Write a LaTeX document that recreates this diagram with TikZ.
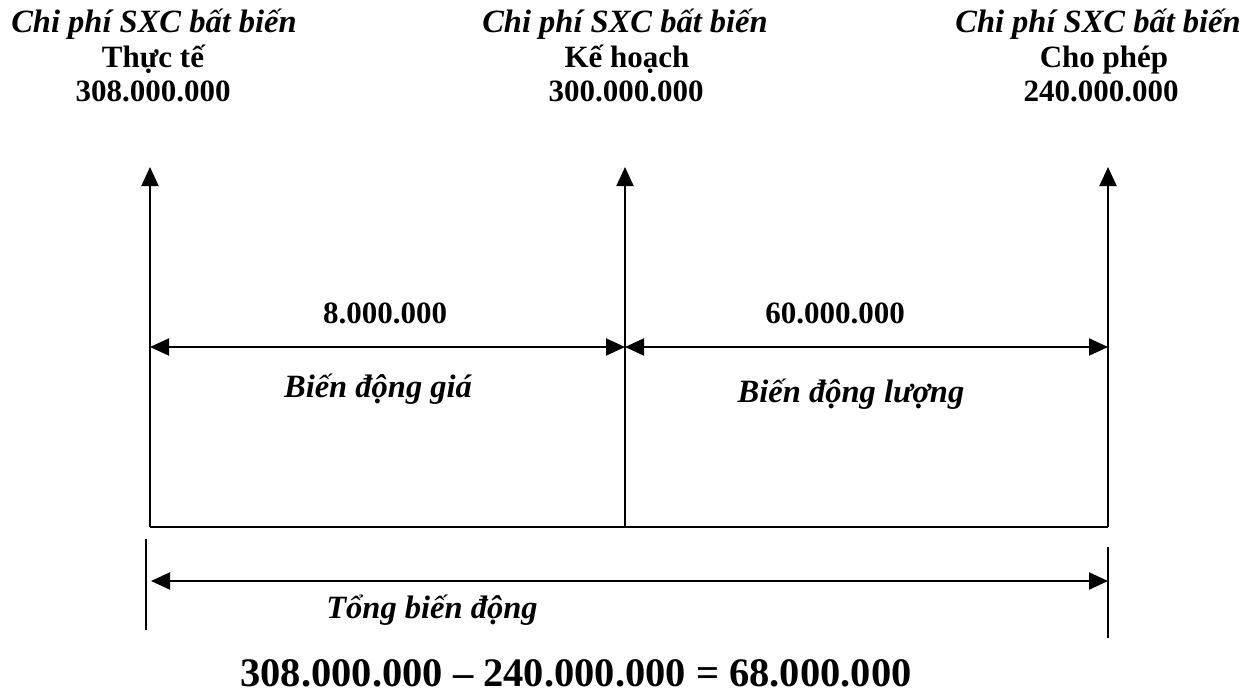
\documentclass[tikz,border=0pt]{standalone}
\usepackage{fontspec}
\setmainfont{Liberation Serif}
\usetikzlibrary{arrows.meta}
\begin{document}
\begin{tikzpicture}[x=1pt,y=-1pt,
  ln/.style={line width=2pt,line cap=butt},
  arr/.style={ln,-{Triangle[length=19pt,width=17pt]}},
  darr/.style={ln,{Triangle[length=19pt,width=17pt]}-{Triangle[length=19pt,width=17pt]}},
  it/.style={anchor=base,inner sep=0pt,font=\fontsize{32.5}{36}\selectfont\bfseries\itshape},
  bf/.style={anchor=base,inner sep=0pt,font=\fontsize{31}{35}\selectfont\bfseries},
  big/.style={anchor=base,inner sep=0pt,font=\fontsize{40.5}{45}\selectfont\bfseries}]
\useasboundingbox (0,0) rectangle (1244,693);
% coordinates
\coordinate (Lb) at (150,527);
\coordinate (Mb) at (625,527);
\coordinate (Rb) at (1108,527);
\coordinate (Lt) at (150,167);
\coordinate (Mt) at (625,167);
\coordinate (Rt) at (1108,167);
\coordinate (Lh) at (150,347);
\coordinate (Mh) at (625,347);
\coordinate (Rh) at (1108,347);
\coordinate (Ba) at (151,581);
\coordinate (Bb) at (1108,581);
\coordinate (T1a) at (146,539);
\coordinate (T1b) at (146,630);
\coordinate (T2a) at (1108,547);
\coordinate (T2b) at (1108,638);
% frame
\draw[ln] (Lb) -- (Rb);
\draw[arr] (Lb) -- (Lt);
\draw[arr] (Mb) -- (Mt);
\draw[arr] (Rb) -- (Rt);
\draw[darr] (Lh) -- (Mh);
\draw[darr] (Mh) -- (Rh);
\draw[darr] (Ba) -- (Bb);
\draw[ln] (T1a) -- (T1b);
\draw[ln] (T2a) -- (T2b);
% top labels
\node[it] (l1) at (154,33) {Chi phí SXC bất biến};
\node[bf] (l2) at (153,67) {Thực tế};
\node[bf] (l3) at (153,101) {308.000.000};
\node[it] (m1) at (625,33) {Chi phí SXC bất biến};
\node[bf] (m2) at (627,67) {Kế hoạch};
\node[bf] (m3) at (626,101) {300.000.000};
\node[it] (r1) at (1098,33) {Chi phí SXC bất biến};
\node[bf] (r2) at (1104,67) {Cho phép};
\node[bf] (r3) at (1101,101) {240.000.000};
% middle labels
\node[bf] (v1) at (385,323) {8.000.000};
\node[bf] (v2) at (835,323) {60.000.000};
\node[it] (g1) at (378,397) {Biến động giá};
\node[it] (g2) at (851,402) {Biến động lượng};
\node[it] (tot) at (432,618) {Tổng biến động};
\node[big] (eq) at (576,686) {308.000.000 – 240.000.000 = 68.000.000};
\end{tikzpicture}
\end{document}
